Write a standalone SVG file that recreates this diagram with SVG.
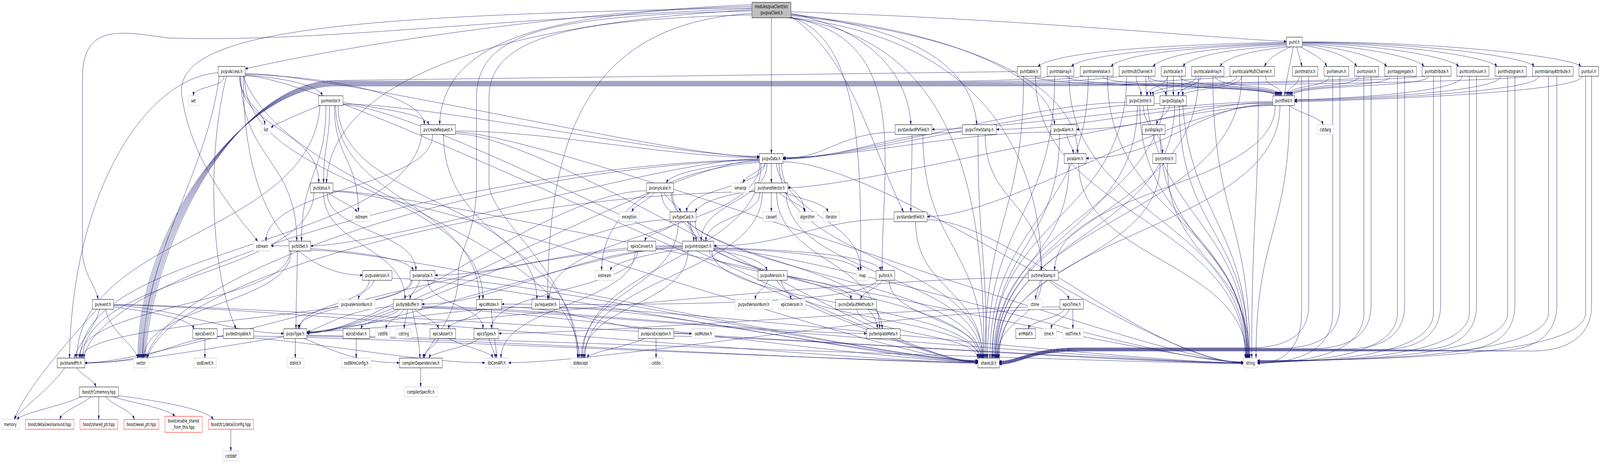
<svg xmlns="http://www.w3.org/2000/svg" width="6675" height="1187" viewBox="0 0 6675 1187" preserveAspectRatio="none">
<style>
:root{width:100vw;height:100vh}
.n rect{fill:#fff;stroke:#000;stroke-width:1}
.g rect{fill:#fff;stroke:#bfbfbf;stroke-width:1}
.r rect{fill:#fff;stroke:#f00;stroke-width:1}
.m rect{fill:#bfbfbf;stroke:#000;stroke-width:1}
text{font-family:"DejaVu Sans","Liberation Sans",sans-serif;font-size:12.5px;text-anchor:middle;fill:#000}
.e path{fill:none;stroke:#191970;stroke-width:1;marker-end:url(#a)}
</style>
<defs>
<marker id="a" markerUnits="userSpaceOnUse" markerWidth="11" markerHeight="8" refX="10" refY="3.5" orient="auto">
<path d="M0,0 L10,3.5 L0,7 z" fill="#191970" stroke="#191970" stroke-width="0.5"/>
</marker>
</defs>
<rect width="6675" height="1187" fill="#fff"/>
<g id="edges" class="e">
<path d="M3218,46 L3218,393"/>
<path d="M3137,12 C2400,30 1500,110 1023,176"/>
<path d="M3137,16 C2300,30 1845,100 1834,319"/>
<path d="M3137,20 C1500,40 700,70 760,250 C800,420 1000,560 1075,617"/>
<path d="M3137,22 C2000,50 1300,110 700,97 C500,80 344,60 344,200 L344,640 C344,700 400,730 409,766"/>
<path d="M3137,25 C2100,60 1380,200 1362,468"/>
<path d="M3137,34 C2500,60 2285,300 2285,766"/>
<path d="M3137,28 C2300,40 1988,80 1988,250 L1988,470 C1988,600 1912,640 1912,700 C1912,820 1780,880 1770,916"/>
<path d="M3137,38 C2400,50 2040,90 2040,250 L2040,470 C2040,560 2400,700 2410,916"/>
<path d="M3300,30 C4300,50 5000,95 5367,106"/>
<path d="M3300,34 C3650,80 3790,200 3800,319"/>
<path d="M3300,36 C3900,80 4060,200 4075,319"/>
<path d="M3300,38 C4000,80 4380,200 4400,319"/>
<path d="M3300,40 C4200,100 4496,250 4496,393"/>
<path d="M3300,42 C3550,150 3620,350 3769,542"/>
<path d="M3300,44 C3590,100 3591,400 3591,692"/>
<path d="M3300,45 C3800,100 3680,400 3680,692"/>
<path d="M3300,45 C4100,100 4344,400 4344,692"/>
<path d="M3290,46 C4000,100 4105,500 4105,916"/>
<path d="M935,195 C935,225 807,220 807,245"/>
<path d="M1000,195 C1000,260 1100,280 1105,319"/>
<path d="M915,195 C860,450 600,650 595,916"/>
<path d="M1015,195 C1200,500 2400,600 2418,916"/>
<path d="M910,186 C600,200 300,500 290,916"/>
<path d="M1023,188 C1400,190 2800,400 3168,402"/>
<path d="M1023,190 C1500,200 1770,260 1770,319"/>
<path d="M1000,195 C1000,330 1330,330 1330,468"/>
<path d="M945,195 C860,400 880,700 985,841"/>
<path d="M1023,192 C1200,200 1330,220 1345,245"/>
<path d="M1005,195 C1005,406 1238,406 1238,617"/>
<path d="M1015,195 C1015,600 1300,704 1513,704"/>
<path d="M1020,195 C1020,480 2015,480 2015,766"/>
<path d="M1023,194 C1400,194 3700,928 4080,928"/>
<path d="M1335,270 C1250,290 1160,315 1130,326"/>
<path d="M1395,270 C1395,406 1495,406 1495,542"/>
<path d="M1375,270 C1375,369 1350,369 1350,468"/>
<path d="M1335,270 C1300,600 330,600 320,916"/>
<path d="M1360,270 C1360,443 1258,443 1258,617"/>
<path d="M1431,262 C1600,280 1770,290 1790,319"/>
<path d="M1431,266 C1800,266 2800,400 3168,400"/>
<path d="M1400,270 C1400,518 2000,518 2000,766"/>
<path d="M1410,270 C1410,518 2240,518 2240,766"/>
<path d="M1431,268 C1800,268 3700,926 4080,926"/>
<path d="M1900,335 C2300,335 2800,403 3168,403"/>
<path d="M1805,344 C1805,480 1110,480 1110,617"/>
<path d="M1760,344 C1700,630 340,630 335,916"/>
<path d="M1850,344 C1850,630 2412,630 2412,916"/>
<path d="M1900,342 C2300,342 3700,926 4080,926"/>
<path d="M1900,338 C2300,338 4800,928 5187,928"/>
<path d="M1370,493 C1400,510 1470,525 1490,542"/>
<path d="M1310,493 C1300,704 345,704 345,916"/>
<path d="M1350,493 C1350,630 1690,630 1690,766"/>
<path d="M1365,493 C1365,592 1735,592 1735,692"/>
<path d="M1389,490 C1800,490 3700,925 4080,925"/>
<path d="M1389,488 C1800,488 4800,926 5187,926"/>
<path d="M1206,629 L1130,629"/>
<path d="M1215,642 C1215,779 600,779 600,916"/>
<path d="M1240,642 C1240,741 1235,741 1235,841"/>
<path d="M1296,636 C1500,645 1700,660 1725,692"/>
<path d="M1210,642 C1210,778 330,778 330,916"/>
<path d="M1296,640 C1700,640 3700,924 4080,924"/>
<path d="M1560,717 C1555,740 1500,745 1495,766"/>
<path d="M1635,712 C2000,712 3700,923 4080,923"/>
<path d="M1540,717 C1540,779 1250,779 1250,841"/>
<path d="M1750,717 C1745,740 1715,745 1710,766"/>
<path d="M1785,717 C1785,779 2015,779 2015,841"/>
<path d="M1720,717 C1720,779 1245,779 1245,841"/>
<path d="M1715,717 C1715,815 340,815 340,916"/>
<path d="M1815,712 C2200,712 3700,922 4080,922"/>
<path d="M3168,412 C3000,420 2800,440 2780,468"/>
<path d="M3195,418 C3170,440 3110,450 3100,468"/>
<path d="M3218,418 L3218,468"/>
<path d="M3190,418 C3190,480 2865,480 2865,542"/>
<path d="M3200,418 C3200,517 2925,517 2925,617"/>
<path d="M3240,418 C3240,480 3355,480 3355,542"/>
<path d="M3168,415 C2700,440 2510,560 2510,692"/>
<path d="M3175,418 C3175,667 2430,667 2430,916"/>
<path d="M3267,414 C3700,414 4800,928 5187,928"/>
<path d="M3260,418 C3260,555 3590,555 3590,692"/>
<path d="M3170,418 C3170,592 2290,592 2290,766"/>
<path d="M3168,410 C2800,410 1600,853 1280,853"/>
<path d="M3168,408 C2000,420 400,700 350,916"/>
<path d="M3168,409 C2000,430 700,700 610,916"/>
<path d="M3250,418 C3250,667 4100,667 4100,916"/>
<path d="M3168,406 C2800,406 1600,629 1296,629"/>
<path d="M2730,493 C2700,515 2650,525 2635,542"/>
<path d="M2770,493 C2790,515 2830,525 2840,542"/>
<path d="M2760,493 C2760,555 2890,555 2895,617"/>
<path d="M2800,493 C2800,667 3680,667 3680,841"/>
<path d="M2697,488 C2300,488 1600,852 1280,852"/>
<path d="M2805,493 C2805,704 4090,704 4090,916"/>
<path d="M3218,493 L3218,542"/>
<path d="M3250,493 C3290,515 3350,525 3360,542"/>
<path d="M3149,488 C3000,500 2920,520 2900,542"/>
<path d="M3170,493 C3170,555 2945,555 2945,617"/>
<path d="M3180,493 C3180,704 2440,704 2440,916"/>
<path d="M3270,493 C3350,510 3440,520 3455,542"/>
<path d="M3240,493 C3240,667 3670,667 3670,841"/>
<path d="M3149,490 C2000,500 700,720 615,916"/>
<path d="M3280,493 C3280,704 4095,704 4095,916"/>
<path d="M2820,567 C2800,590 2700,595 2690,617"/>
<path d="M2870,567 C2880,590 2900,595 2905,617"/>
<path d="M2830,567 C2830,741 2425,741 2425,916"/>
<path d="M2880,567 C2880,704 3660,704 3660,841"/>
<path d="M2795,562 C2400,562 1600,851 1280,851"/>
<path d="M2900,567 C2900,741 4085,741 4085,916"/>
<path d="M2660,642 C2660,741 2050,741 2050,841"/>
<path d="M2650,642 C2650,779 2090,779 2090,916"/>
<path d="M2847,637 C2700,650 2560,670 2545,692"/>
<path d="M2978,640 C3100,650 3190,670 3200,692"/>
<path d="M2870,642 C2870,779 2435,779 2435,916"/>
<path d="M2978,636 C3300,640 3560,660 3585,692"/>
<path d="M2978,634 C3400,640 3660,660 3675,692"/>
<path d="M2960,642 C2960,704 3550,704 3550,766"/>
<path d="M2847,632 C2500,632 1600,850 1280,850"/>
<path d="M2847,630 C2000,640 700,928 354,928"/>
<path d="M2847,635 C2400,635 2100,778 1760,778"/>
<path d="M2847,628 C2400,628 2100,704 1815,704"/>
<path d="M2978,638 C3400,638 4800,927 5187,927"/>
<path d="M2970,642 C2970,779 4080,779 4082,916"/>
<path d="M3205,717 C3190,740 3155,745 3150,766"/>
<path d="M3240,717 C3260,740 3295,745 3300,766"/>
<path d="M3260,717 C3260,816 4085,816 4088,916"/>
<path d="M3680,717 C3660,740 3600,745 3590,766"/>
<path d="M3660,717 C3600,790 2400,778 2093,778"/>
<path d="M3710,717 C3710,816 4092,816 4094,916"/>
<path d="M3575,791 C3575,853 4078,853 4078,916"/>
<path d="M3805,344 C3805,443 3800,443 3800,542"/>
<path d="M3734,338 C3500,340 3450,405 3267,405"/>
<path d="M3850,344 C3850,630 4100,630 4102,916"/>
<path d="M3730,560 C3400,560 3300,629 2978,629"/>
<path d="M3820,567 C3820,741 4096,741 4098,916"/>
<path d="M3868,562 C4200,562 4800,927 5187,927"/>
<path d="M4110,344 C4110,518 4345,518 4345,692"/>
<path d="M4015,338 C3700,338 3567,404 3267,404"/>
<path d="M4080,344 C4080,630 4115,630 4115,916"/>
<path d="M4450,344 C4460,370 4475,375 4478,393"/>
<path d="M4384,338 C4000,338 3567,403 3267,403"/>
<path d="M4420,344 C4420,630 4140,630 4140,916"/>
<path d="M4500,418 C4500,667 5200,667 5200,916"/>
<path d="M4460,418 C4460,667 4150,667 4150,916"/>
<path d="M4340,717 C4335,740 4322,745 4320,766"/>
<path d="M4375,717 C4400,735 4450,745 4460,766"/>
<path d="M4290,710 C3500,710 1600,849 1280,849"/>
<path d="M4345,717 C4345,816 4160,816 4160,916"/>
<path d="M4440,791 C4420,815 4300,820 4290,841"/>
<path d="M4460,791 C4450,815 4390,820 4385,841"/>
<path d="M4476,791 L4476,841"/>
<path d="M4422,785 C3800,785 2500,853 2081,853"/>
<path d="M4425,791 C3800,791 2500,928 2121,928"/>
<path d="M4770,270 C4770,330 4850,330 4850,393"/>
<path d="M4700,262 C4300,262 3567,406 3267,406"/>
<path d="M4755,270 C4755,593 5203,593 5203,916"/>
<path d="M4745,270 C4745,600 4155,600 4155,916"/>
<path d="M4880,270 C4870,295 4830,300 4825,319"/>
<path d="M4839,265 C4400,265 3567,407 3267,407"/>
<path d="M4920,270 C4920,593 5210,593 5210,916"/>
<path d="M4900,270 C4900,600 4162,600 4162,916"/>
<path d="M4840,344 C4840,630 5206,630 5206,916"/>
<path d="M4870,418 C4870,667 5212,667 5212,916"/>
<path d="M4840,418 C4840,667 4165,667 4165,916"/>
<path d="M5380,270 C5420,290 5510,300 5520,319"/>
<path d="M5310,262 C5000,262 4800,331 4491,331"/>
<path d="M5310,266 C5000,266 4850,405 4531,405"/>
<path d="M5310,264 C4900,264 4500,331 4157,331"/>
<path d="M5320,270 C5320,481 4400,481 4400,692"/>
<path d="M5310,268 C4900,268 4200,554 3868,554"/>
<path d="M5310,260 C4900,260 4200,331 3888,331"/>
<path d="M5310,270 C4900,270 3600,480 3287,480"/>
<path d="M5380,270 C5380,593 5240,593 5240,916"/>
<path d="M5340,270 C5340,593 4170,593 4168,916"/>
<path d="M405,791 C300,860 100,1000 60,1073"/>
<path d="M415,791 C400,840 320,880 312,916"/>
<path d="M440,791 C460,850 560,880 575,916"/>
<path d="M474,785 C650,800 790,815 810,841"/>
<path d="M474,782 C700,782 958,853 1184,853"/>
<path d="M474,780 C1000,780 3600,928 4080,928"/>
<path d="M474,779 C1000,779 4700,929 5187,929"/>
<path d="M855,866 L855,916"/>
<path d="M906,860 C1206,860 1723,928 2023,928"/>
<path d="M931,860 C700,870 654,928 354,928"/>
<path d="M1058,860 C1400,860 3700,927 4080,927"/>
<path d="M270,941 C200,1000 80,1050 60,1073"/>
<path d="M320,941 C340,960 390,970 400,990"/>
<path d="M340,1015 C250,1040 100,1055 70,1073"/>
<path d="M380,1015 C330,1040 260,1050 250,1073"/>
<path d="M412,1015 L412,1073"/>
<path d="M440,1015 C480,1040 550,1050 560,1073"/>
<path d="M470,1015 C550,1030 700,1045 730,1065"/>
<path d="M494,1012 C650,1025 860,1045 890,1073"/>
<path d="M963,1098 L963,1154"/>
<path d="M1232,866 L1232,916"/>
<path d="M1270,866 C1400,900 1500,928 1666,928"/>
<path d="M1280,860 C1700,860 3700,929 4080,929"/>
<path d="M1280,858 C1700,858 4700,930 5187,930"/>
<path d="M1486,866 L1486,916"/>
<path d="M1641,784 C1450,790 1320,845 1282,849"/>
<path d="M1670,791 C1640,810 1520,820 1505,841"/>
<path d="M1685,791 C1670,810 1615,820 1610,841"/>
<path d="M1700,791 C1698,810 1688,820 1686,841"/>
<path d="M1730,791 C1760,810 1820,820 1830,841"/>
<path d="M1720,791 C1740,850 1750,880 1752,916"/>
<path d="M1760,784 C2200,784 3200,853 3615,853"/>
<path d="M1760,788 C2200,788 3700,926 4080,926"/>
<path d="M1760,786 C2200,786 4700,929 5187,929"/>
<path d="M2010,791 C1990,815 1880,820 1870,841"/>
<path d="M2050,791 C2055,850 2070,880 2072,916"/>
<path d="M2093,785 C2393,785 2586,853 2886,853"/>
<path d="M2334,786 C2800,786 4700,928 5187,928"/>
<path d="M2219,786 C1700,786 700,929 354,929"/>
<path d="M2334,788 C2800,788 3700,925 4080,925"/>
<path d="M1830,866 C1810,890 1770,895 1765,916"/>
<path d="M1870,866 C1950,890 2050,900 2055,916"/>
<path d="M2000,866 C1950,890 1800,900 1790,916"/>
<path d="M2040,866 C2050,890 2065,900 2066,916"/>
<path d="M2737,866 L2737,916"/>
<path d="M2690,866 C2600,890 2460,900 2450,916"/>
<path d="M2811,860 C3200,860 4700,929 5187,929"/>
<path d="M1755,941 L1755,990"/>
<path d="M5367,108 C4800,115 4400,135 4330,170"/>
<path d="M5367,110 C4900,118 4520,140 4470,170"/>
<path d="M5367,112 C4950,120 4680,140 4635,170"/>
<path d="M5367,114 C5000,122 4850,145 4810,170"/>
<path d="M5370,117 C5100,125 4960,148 4935,170"/>
<path d="M5375,120 C5200,130 5110,150 5090,170"/>
<path d="M5385,120 C5330,135 5290,150 5275,170"/>
<path d="M5395,120 C5385,160 5365,200 5360,245"/>
<path d="M5410,120 C5418,140 5425,155 5432,170"/>
<path d="M5425,120 C5470,135 5520,150 5535,170"/>
<path d="M5433,116 C5550,125 5640,150 5660,170"/>
<path d="M5433,114 C5600,120 5760,150 5785,170"/>
<path d="M5433,112 C5700,118 5920,150 5940,170"/>
<path d="M5433,110 C5800,115 6060,150 6085,170"/>
<path d="M5433,109 C5900,112 6220,150 6245,170"/>
<path d="M5433,108 C6000,110 6380,150 6400,170"/>
<path d="M5433,107 C6100,108 6570,150 6595,170"/>
<path d="M4320,195 C4320,225 5320,215 5322,245"/>
<path d="M4450,195 C4450,225 5325,215 5326,245"/>
<path d="M4600,195 C4600,225 5330,215 5330,245"/>
<path d="M4790,195 C4790,225 5334,215 5334,245"/>
<path d="M4920,195 C4920,225 5338,215 5338,245"/>
<path d="M5070,195 C5070,225 5342,215 5342,245"/>
<path d="M5280,195 C5280,225 5346,215 5346,245"/>
<path d="M5420,195 C5420,220 5370,220 5368,245"/>
<path d="M5545,195 C5545,225 5375,215 5374,245"/>
<path d="M5670,195 C5670,225 5380,215 5380,245"/>
<path d="M5800,195 C5800,225 5385,215 5385,245"/>
<path d="M5960,195 C5960,225 5390,215 5390,245"/>
<path d="M6100,195 C6100,240 5500,255 5401,255"/>
<path d="M6260,195 C6260,240 5500,256 5401,256"/>
<path d="M6420,195 C6420,240 5500,258 5401,258"/>
<path d="M6600,195 C6600,240 5500,260 5401,260"/>
<path d="M4270,195 C4270,556 4110,556 4110,916"/>
<path d="M4320,195 C4320,556 5195,556 5195,916"/>
<path d="M4400,195 C4400,556 4120,556 4120,916"/>
<path d="M4460,195 C4460,556 5198,556 5198,916"/>
<path d="M4540,195 C4540,556 4130,556 4130,916"/>
<path d="M4620,195 C4620,556 5201,556 5201,916"/>
<path d="M4700,195 C4700,556 4138,556 4138,916"/>
<path d="M4780,195 C4780,556 5204,556 5204,916"/>
<path d="M4870,195 C4870,556 4145,556 4145,916"/>
<path d="M4930,195 C4930,556 5208,556 5208,916"/>
<path d="M5000,195 C5000,556 4152,556 4152,916"/>
<path d="M5060,195 C5060,556 5214,556 5214,916"/>
<path d="M5180,195 C5180,556 4158,556 4158,916"/>
<path d="M5250,195 C5250,556 5222,556 5222,916"/>
<path d="M5430,195 L5430,800 C5430,900 5338,930 5246,930"/>
<path d="M5560,195 L5560,800 C5560,900 5400,929 5246,929"/>
<path d="M5690,195 L5690,800 C5690,900 5468,928 5246,928"/>
<path d="M5830,195 L5830,800 C5830,900 5538,927 5246,927"/>
<path d="M5980,195 L5980,800 C5980,900 5613,926 5246,926"/>
<path d="M6130,195 L6130,800 C6130,900 5688,925 5246,925"/>
<path d="M6290,195 L6290,800 C6290,900 5768,924 5246,924"/>
<path d="M6460,195 L6460,800 C6460,900 5853,923 5246,923"/>
<path d="M6615,195 L6615,800 C6615,900 5930,922 5246,922"/>
<path d="M5460,195 L5460,780 C5460,860 5360,890 5210,890 L4500,890 C4300,890 4250,924 4169,924"/>
<path d="M5590,195 L5590,780 C5590,860 5490,891 5340,891 L4500,891 C4300,891 4250,925 4169,925"/>
<path d="M5720,195 L5720,780 C5720,860 5620,892 5470,892 L4500,892 C4300,892 4250,926 4169,926"/>
<path d="M5860,195 L5860,780 C5860,860 5760,893 5610,893 L4500,893 C4300,893 4250,927 4169,927"/>
<path d="M6010,195 L6010,780 C6010,860 5910,894 5760,894 L4500,894 C4300,894 4250,928 4169,928"/>
<path d="M6160,195 L6160,780 C6160,860 6060,895 5910,895 L4500,895 C4300,895 4250,929 4169,929"/>
<path d="M6320,195 L6320,780 C6320,860 6220,896 6070,896 L4500,896 C4300,896 4250,930 4169,930"/>
<path d="M6495,195 L6495,780 C6495,860 6395,897 6245,897 L4500,897 C4300,897 4250,931 4169,931"/>
<path d="M6640,195 L6640,780 C6640,860 6540,898 6390,898 L4500,898 C4300,898 4250,932 4169,932"/>
<path d="M4740,195 C4740,220 4760,220 4760,245"/>
<path d="M4790,195 C4790,220 4860,220 4865,245"/>
<path d="M4870,195 C4870,220 4790,220 4785,245"/>
<path d="M4895,195 L4895,245"/>
<path d="M4990,195 C4990,225 4800,220 4800,245"/>
<path d="M5010,195 C5010,220 4920,220 4915,245"/>
<path d="M5160,195 C5160,230 4810,225 4810,245"/>
<path d="M5180,195 C5180,230 4935,225 4935,245"/>
<path d="M4244,183 L1400,206 C1000,206 640,600 605,916"/>
<path d="M4380,195 C4300,205 4100,208 3800,208 L1400,208 C1000,208 630,600 600,916"/>
<path d="M4520,195 C4400,208 4200,210 3800,210 L1400,210 C1000,210 620,600 596,916"/>
<path d="M4680,195 C4500,210 4300,212 3800,212 L1400,212 C1000,212 610,600 592,916"/>
<path d="M5140,195 C4900,212 4400,214 3800,214 L1400,214 C1000,214 600,600 588,916"/>
<path d="M5790,195 C5500,214 4600,216 3800,216 L1400,216 C1000,216 590,600 584,916"/>
<path d="M5945,195 C5600,216 4600,218 3800,218 L1400,218 C1000,218 580,600 580,916"/>
<path d="M6400,195 C6000,218 4600,220 3800,220 L1400,220 C1000,220 570,600 576,916"/>
</g>
<g id="n_main" class="m"><rect x="3137" y="6" width="163" height="39.5"/><text x="3218.5" y="21">modules/pvaClient/src</text><text x="3218.5" y="37">/pv/pvaClient.h</text></g>
<g id="n_nt" class="n"><rect x="5367" y="95" width="66" height="25"/><text x="5400" y="112">pv/nt.h</text></g>
<g id="n_pvAccess" class="n"><rect x="910" y="170" width="113" height="25"/><text x="966.5" y="187">pv/pvAccess.h</text></g>
<g id="n_nttable" class="n"><rect x="4244" y="170" width="98" height="25"/><text x="4293" y="187">pv/nttable.h</text></g>
<g id="n_ntndarray" class="n"><rect x="4369" y="170" width="111" height="25"/><text x="4424.5" y="187">pv/ntndarray.h</text></g>
<g id="n_ntnameValue" class="n"><rect x="4507" y="170" width="137" height="25"/><text x="4575.5" y="187">pv/ntnameValue.h</text></g>
<g id="n_ntmultiChannel" class="n"><rect x="4669" y="170" width="150" height="25"/><text x="4744" y="187">pv/ntmultiChannel.h</text></g>
<g id="n_ntscalar" class="n"><rect x="4844" y="170" width="102" height="25"/><text x="4895" y="187">pv/ntscalar.h</text></g>
<g id="n_ntscalarArray" class="n"><rect x="4971" y="170" width="135" height="25"/><text x="5038.5" y="187">pv/ntscalarArray.h</text></g>
<g id="n_ntscalarMultiChannel" class="n"><rect x="5131" y="170" width="186" height="25"/><text x="5224" y="187">pv/ntscalarMultiChannel.h</text></g>
<g id="n_ntmatrix" class="n"><rect x="5392" y="170" width="106" height="25"/><text x="5445" y="187">pv/ntmatrix.h</text></g>
<g id="n_ntenum" class="n"><rect x="5524" y="170" width="103" height="25"/><text x="5575.5" y="187">pv/ntenum.h</text></g>
<g id="n_ntunion" class="n"><rect x="5651" y="170" width="101" height="25"/><text x="5701.5" y="187">pv/ntunion.h</text></g>
<g id="n_ntaggregate" class="n"><rect x="5777" y="170" width="132" height="25"/><text x="5843" y="187">pv/ntaggregate.h</text></g>
<g id="n_ntattribute" class="n"><rect x="5933" y="170" width="121" height="25"/><text x="5993.5" y="187">pv/ntattribute.h</text></g>
<g id="n_ntcontinuum" class="n"><rect x="6078" y="170" width="134" height="25"/><text x="6145" y="187">pv/ntcontinuum.h</text></g>
<g id="n_nthistogram" class="n"><rect x="6237" y="170" width="131" height="25"/><text x="6302.5" y="187">pv/nthistogram.h</text></g>
<g id="n_ntndarrayAttribute" class="n"><rect x="6393" y="170" width="170" height="25"/><text x="6478" y="187">pv/ntndarrayAttribute.h</text></g>
<g id="n_nturi" class="n"><rect x="6587" y="170" width="82" height="25"/><text x="6628" y="187">pv/nturi.h</text></g>
<g id="n_set" class="g"><rect x="786" y="245" width="42" height="25"/><text x="807" y="262">set</text></g>
<g id="n_monitor" class="n"><rect x="1329" y="245" width="102" height="25"/><text x="1380" y="262">pv/monitor.h</text></g>
<g id="n_pvControl" class="n"><rect x="4700" y="245" width="115" height="25"/><text x="4757.5" y="262">pv/pvControl.h</text></g>
<g id="n_pvDisplay" class="n"><rect x="4839" y="245" width="111" height="25"/><text x="4894.5" y="262">pv/pvDisplay.h</text></g>
<g id="n_ntfield" class="n"><rect x="5310" y="245" width="91" height="25"/><text x="5355.5" y="262">pv/ntfield.h</text></g>
<g id="n_list" class="g"><rect x="1090" y="319" width="39" height="25"/><text x="1109.5" y="336">list</text></g>
<g id="n_createRequest" class="n"><rect x="1755" y="319" width="145" height="25"/><text x="1827.5" y="336">pv/createRequest.h</text></g>
<g id="n_standardPVField" class="n"><rect x="3734" y="319" width="154" height="25"/><text x="3811" y="336">pv/standardPVField.h</text></g>
<g id="n_pvTimeStamp" class="n"><rect x="4015" y="319" width="142" height="25"/><text x="4086" y="336">pv/pvTimeStamp.h</text></g>
<g id="n_pvAlarm" class="n"><rect x="4384" y="319" width="107" height="25"/><text x="4437.5" y="336">pv/pvAlarm.h</text></g>
<g id="n_display" class="n"><rect x="4766" y="319" width="95" height="25"/><text x="4813.5" y="336">pv/display.h</text></g>
<g id="n_cstdarg" class="g"><rect x="5494" y="319" width="71" height="25"/><text x="5529.5" y="336">cstdarg</text></g>
<g id="n_pvData" class="n"><rect x="3168" y="393" width="99" height="25"/><text x="3217.5" y="410">pv/pvData.h</text></g>
<g id="n_alarm" class="n"><rect x="4440" y="393" width="91" height="25"/><text x="4485.5" y="410">pv/alarm.h</text></g>
<g id="n_control" class="n"><rect x="4809" y="393" width="97" height="25"/><text x="4857.5" y="410">pv/control.h</text></g>
<g id="n_status" class="n"><rect x="1295" y="468" width="94" height="25"/><text x="1342" y="485">pv/status.h</text></g>
<g id="n_anyscalar" class="n"><rect x="2697" y="468" width="113" height="25"/><text x="2753.5" y="485">pv/anyscalar.h</text></g>
<g id="n_iomanip" class="g"><rect x="3052" y="468" width="73" height="25"/><text x="3088.5" y="485">iomanip</text></g>
<g id="n_sharedVector" class="n"><rect x="3149" y="468" width="138" height="25"/><text x="3218" y="485">pv/sharedVector.h</text></g>
<g id="n_ostream" class="g"><rect x="1470" y="542" width="75" height="25"/><text x="1507.5" y="559">ostream</text></g>
<g id="n_exception" class="g"><rect x="2584" y="542" width="83" height="25"/><text x="2625.5" y="559">exception</text></g>
<g id="n_typeCast" class="n"><rect x="2795" y="542" width="109" height="25"/><text x="2849.5" y="559">pv/typeCast.h</text></g>
<g id="n_cassert" class="g"><rect x="3184" y="542" width="68" height="25"/><text x="3218" y="559">cassert</text></g>
<g id="n_algorithm" class="g"><rect x="3328" y="542" width="80" height="25"/><text x="3368" y="559">algorithm</text></g>
<g id="n_iterator" class="g"><rect x="3434" y="542" width="69" height="25"/><text x="3468.5" y="559">iterator</text></g>
<g id="n_standardField" class="n"><rect x="3730" y="542" width="138" height="25"/><text x="3799" y="559">pv/standardField.h</text></g>
<g id="n_sstream" class="g"><rect x="1057" y="617" width="73" height="25"/><text x="1093.5" y="634">sstream</text></g>
<g id="n_bitSet" class="n"><rect x="1206" y="617" width="90" height="25"/><text x="1251" y="634">pv/bitSet.h</text></g>
<g id="n_epicsConvert" class="n"><rect x="2619" y="617" width="117" height="25"/><text x="2677.5" y="634">epicsConvert.h</text></g>
<g id="n_pvIntrospect" class="n"><rect x="2847" y="617" width="131" height="25"/><text x="2912.5" y="634">pv/pvIntrospect.h</text></g>
<g id="n_pvaVersion" class="n"><rect x="1513" y="692" width="122" height="25"/><text x="1574" y="709">pv/pvaVersion.h</text></g>
<g id="n_serialize" class="n"><rect x="1711" y="692" width="104" height="25"/><text x="1763" y="709">pv/serialize.h</text></g>
<g id="n_iostream" class="g"><rect x="2483" y="692" width="78" height="25"/><text x="2522" y="709">iostream</text></g>
<g id="n_pvdVersion" class="n"><rect x="3162" y="692" width="122" height="25"/><text x="3223" y="709">pv/pvdVersion.h</text></g>
<g id="n_map" class="g"><rect x="3573" y="692" width="50" height="25"/><text x="3598" y="709">map</text></g>
<g id="n_lock" class="n"><rect x="3655" y="692" width="78" height="25"/><text x="3694" y="709">pv/lock.h</text></g>
<g id="n_timeStamp" class="n"><rect x="4290" y="692" width="125" height="25"/><text x="4352.5" y="709">pv/timeStamp.h</text></g>
<g id="n_event" class="n"><rect x="385" y="766" width="89" height="25"/><text x="429.5" y="783">pv/event.h</text></g>
<g id="n_pvaVersionNum" class="g"><rect x="1411" y="766" width="155" height="25"/><text x="1488.5" y="783">pv/pvaVersionNum.h</text></g>
<g id="n_byteBuffer" class="n"><rect x="1641" y="766" width="119" height="25"/><text x="1700.5" y="783">pv/byteBuffer.h</text></g>
<g id="n_epicsMutex" class="n"><rect x="1987" y="766" width="106" height="25"/><text x="2040" y="783">epicsMutex.h</text></g>
<g id="n_requester" class="n"><rect x="2219" y="766" width="115" height="25"/><text x="2276.5" y="783">pv/requester.h</text></g>
<g id="n_pvdVersionNum" class="g"><rect x="3067" y="766" width="155" height="25"/><text x="3144.5" y="783">pv/pvdVersionNum.h</text></g>
<g id="n_epicsVersion" class="g"><rect x="3246" y="766" width="114" height="25"/><text x="3303" y="783">epicsVersion.h</text></g>
<g id="n_noDefaultMethods" class="n"><rect x="3486" y="766" width="170" height="25"/><text x="3571" y="783">pv/noDefaultMethods.h</text></g>
<g id="n_ctime" class="g"><rect x="4288" y="766" width="59" height="25"/><text x="4317.5" y="783">ctime</text></g>
<g id="n_epicsTime" class="n"><rect x="4422" y="766" width="98" height="25"/><text x="4471" y="783">epicsTime.h</text></g>
<g id="n_epicsEvent" class="n"><rect x="804" y="841" width="102" height="25"/><text x="855" y="858">epicsEvent.h</text></g>
<g id="n_destroyable" class="n"><rect x="931" y="841" width="127" height="25"/><text x="994.5" y="858">pv/destroyable.h</text></g>
<g id="n_pvType" class="n"><rect x="1184" y="841" width="96" height="25"/><text x="1232" y="858">pv/pvType.h</text></g>
<g id="n_epicsEndian" class="n"><rect x="1431" y="841" width="111" height="25"/><text x="1486.5" y="858">epicsEndian.h</text></g>
<g id="n_cstdlib" class="g"><rect x="1566" y="841" width="62" height="25"/><text x="1597" y="858">cstdlib</text></g>
<g id="n_cstring" class="g"><rect x="1652" y="841" width="65" height="25"/><text x="1684.5" y="858">cstring</text></g>
<g id="n_epicsAssert" class="n"><rect x="1794" y="841" width="107" height="25"/><text x="1847.5" y="858">epicsAssert.h</text></g>
<g id="n_epicsTypes" class="n"><rect x="1977" y="841" width="104" height="25"/><text x="2029" y="858">epicsTypes.h</text></g>
<g id="n_epicsException" class="n"><rect x="2663" y="841" width="148" height="25"/><text x="2737" y="858">pv/epicsException.h</text></g>
<g id="n_osdMutex" class="g"><rect x="2886" y="841" width="96" height="25"/><text x="2934" y="858">osdMutex.h</text></g>
<g id="n_templateMeta" class="n"><rect x="3615" y="841" width="141" height="25"/><text x="3685.5" y="858">pv/templateMeta.h</text></g>
<g id="n_errMdef" class="n"><rect x="4238" y="841" width="82" height="25"/><text x="4279" y="858">errMdef.h</text></g>
<g id="n_timeh" class="g"><rect x="4345" y="841" width="62" height="25"/><text x="4376" y="858">time.h</text></g>
<g id="n_osdTime" class="g"><rect x="4433" y="841" width="87" height="25"/><text x="4476.5" y="858">osdTime.h</text></g>
<g id="n_sharedPtr" class="n"><rect x="239" y="916" width="115" height="25"/><text x="296.5" y="933">pv/sharedPtr.h</text></g>
<g id="n_vector" class="g"><rect x="557" y="916" width="62" height="25"/><text x="588" y="933">vector</text></g>
<g id="n_osdEvent" class="g"><rect x="809" y="916" width="93" height="25"/><text x="855.5" y="933">osdEvent.h</text></g>
<g id="n_stdint" class="g"><rect x="1197" y="916" width="71" height="25"/><text x="1232.5" y="933">stdint.h</text></g>
<g id="n_osdWireConfig" class="g"><rect x="1424" y="916" width="124" height="25"/><text x="1486" y="933">osdWireConfig.h</text></g>
<g id="n_compilerDependencies" class="n"><rect x="1666" y="916" width="179" height="25"/><text x="1755.5" y="933">compilerDependencies.h</text></g>
<g id="n_libComAPI" class="g"><rect x="2023" y="916" width="98" height="25"/><text x="2072" y="933">libComAPI.h</text></g>
<g id="n_stdexcept" class="g"><rect x="2379" y="916" width="86" height="25"/><text x="2422" y="933">stdexcept</text></g>
<g id="n_cstdio" class="g"><rect x="2707" y="916" width="60" height="25"/><text x="2737" y="933">cstdio</text></g>
<g id="n_shareLib" class="n"><rect x="4080" y="916" width="89" height="25"/><text x="4124.5" y="933">shareLib.h</text></g>
<g id="n_string" class="g"><rect x="5187" y="916" width="59" height="25"/><text x="5216.5" y="933">string</text></g>
<g id="n_boostmemory" class="n"><rect x="331" y="990" width="163" height="25"/><text x="412.5" y="1007">boost/tr1/memory.hpp</text></g>
<g id="n_compilerSpecific" class="g"><rect x="1686" y="990" width="139" height="25"/><text x="1755.5" y="1007">compilerSpecific.h</text></g>
<g id="n_memory" class="g"><rect x="5" y="1073" width="76" height="25"/><text x="43" y="1090">memory</text></g>
<g id="n_workaround" class="r"><rect x="106" y="1073" width="202" height="25"/><text x="207" y="1090">boost/detail/workaround.hpp</text></g>
<g id="n_shared_ptr" class="r"><rect x="334" y="1073" width="157" height="25"/><text x="412.5" y="1090">boost/shared_ptr.hpp</text></g>
<g id="n_weak_ptr" class="r"><rect x="517" y="1073" width="146" height="25"/><text x="590" y="1090">boost/weak_ptr.hpp</text></g>
<g id="n_enable_shared" class="r"><rect x="688" y="1065" width="155" height="41"/><text x="765.5" y="1081">boost/enable_shared</text><text x="765.5" y="1097">_from_this.hpp</text></g>
<g id="n_config" class="r"><rect x="869" y="1073" width="189" height="25"/><text x="963.5" y="1090">boost/tr1/detail/config.hpp</text></g>
<g id="n_cstddef" class="g"><rect x="930" y="1154" width="67" height="25"/><text x="963.5" y="1171">cstddef</text></g>
</svg>
